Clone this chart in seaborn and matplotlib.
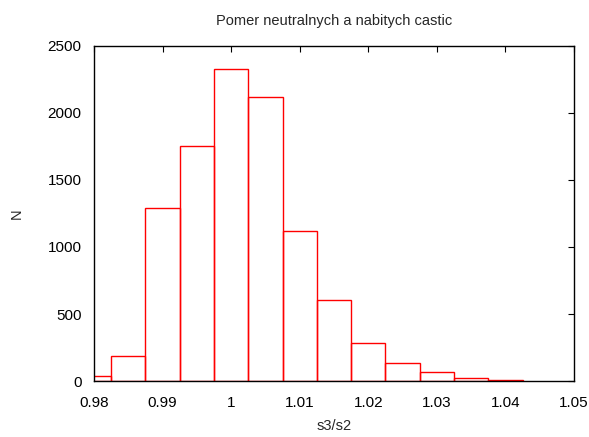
import numpy as np
import pandas as pd
import matplotlib
matplotlib.use("Agg")
import matplotlib.pyplot as plt
import seaborn as sns

# Histogram of the s3/s2 ratio, bin width 0.005
bin_edges = [0.9775, 0.9825, 0.9875, 0.9925, 0.9975, 1.0025, 1.0075,
             1.0125, 1.0175, 1.0225, 1.0275, 1.0325, 1.0375, 1.0425]
counts = [40, 188, 1292, 1755, 2328, 2122, 1122, 604, 284, 136, 68, 25, 8]

title = "Pomer neutralnych a nabitych castic"
x_label = "s3/s2"
y_label = "N"
x_ticks = [0.98, 0.99, 1.0, 1.01, 1.02, 1.03, 1.04, 1.05]
x_tick_labels = ["0.98", "0.99", "1", "1.01", "1.02", "1.03", "1.04", "1.05"]
y_ticks = [0, 500, 1000, 1500, 2000, 2500]

edges = np.array(bin_edges)
centers = (edges[:-1] + edges[1:]) / 2
df = pd.DataFrame({"ratio": centers, "count": counts})

sns.set_theme(style="white")
plt.rcParams["font.family"] = ["Liberation Sans", "DejaVu Sans"]

fig = plt.figure(figsize=(5.89, 4.37), dpi=100)
ax = fig.add_axes([0.1596, 0.128, 0.815, 0.767])

sns.histplot(data=df, x="ratio", weights="count", bins=list(bin_edges),
             element="bars", fill=False, color="red", linewidth=1.0, ax=ax)
for p in ax.patches:
    p.set_edgecolor("#ff0000")
    p.set_clip_on(True)

ax.set_xlim(0.98, 1.05)
ax.set_ylim(0, 2500)
ax.set_xticks(x_ticks)
ax.set_xticklabels(x_tick_labels)
ax.set_yticks(y_ticks)

ax.tick_params(direction="in", length=4, width=0.8, top=True, right=True,
               labelsize=11, colors="black")
ax.tick_params(axis="x", pad=11)
ax.tick_params(axis="y", pad=9)
for s in ax.spines.values():
    s.set_color("black")
    s.set_linewidth(1.0)

ax.set_title(title, fontsize=10.5, pad=15)
ax.set_xlabel(x_label, fontsize=10.5, labelpad=6)
ax.set_ylabel(y_label, fontsize=10.5, labelpad=17)

fig.savefig("out.png", dpi=100)
